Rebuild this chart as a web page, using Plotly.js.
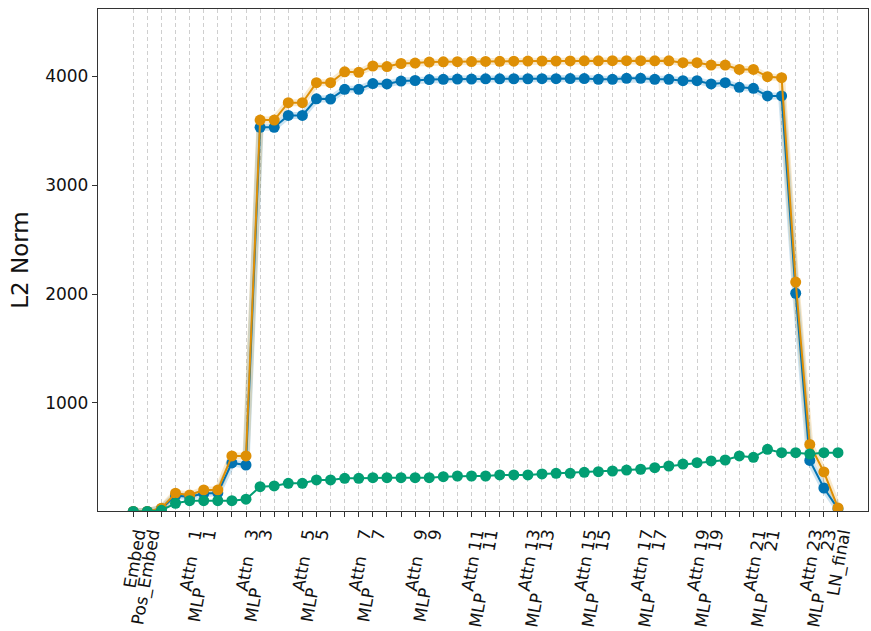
<!DOCTYPE html>
<html>
<head>
<meta charset="utf-8">
<script src="https://cdn.plot.ly/plotly-3.0.1.min.js"></script>
<style>html,body{margin:0;padding:0;background:#fff;}#chart{width:871px;height:631px;}</style>
</head>
<body>
<div id="chart"></div>
<script>
var categories = ["Embed","Pos_Embed",
  "Attn 0","MLP 0","Attn 1","MLP 1","Attn 2","MLP 2","Attn 3","MLP 3","Attn 4","MLP 4",
  "Attn 5","MLP 5","Attn 6","MLP 6","Attn 7","MLP 7","Attn 8","MLP 8","Attn 9","MLP 9",
  "Attn 10","MLP 10","Attn 11","MLP 11","Attn 12","MLP 12","Attn 13","MLP 13","Attn 14","MLP 14",
  "Attn 15","MLP 15","Attn 16","MLP 16","Attn 17","MLP 17","Attn 18","MLP 18","Attn 19","MLP 19",
  "Attn 20","MLP 20","Attn 21","MLP 21","Attn 22","MLP 22","Attn 23","MLP 23","LN_final"];

var tickLabels = ["Embed","Pos_Embed",
  "","","Attn\u00a0\u00a0\u00a01","MLP\u00a0\u00a0\u00a0\u00a0\u00a0\u00a0\u00a0\u00a0\u00a01","","",
  "Attn\u00a0\u00a0\u00a03","MLP\u00a0\u00a0\u00a0\u00a0\u00a0\u00a0\u00a0\u00a0\u00a03","","",
  "Attn\u00a0\u00a0\u00a05","MLP\u00a0\u00a0\u00a0\u00a0\u00a0\u00a0\u00a0\u00a0\u00a05","","",
  "Attn\u00a0\u00a0\u00a07","MLP\u00a0\u00a0\u00a0\u00a0\u00a0\u00a0\u00a0\u00a0\u00a07","","",
  "Attn\u00a0\u00a0\u00a09","MLP\u00a0\u00a0\u00a0\u00a0\u00a0\u00a0\u00a0\u00a0\u00a09","","",
  "Attn\u00a011","MLP\u00a0\u00a0\u00a0\u00a0\u00a0\u00a0\u00a0\u00a011","","",
  "Attn\u00a013","MLP\u00a0\u00a0\u00a0\u00a0\u00a0\u00a0\u00a0\u00a013","","",
  "Attn\u00a015","MLP\u00a0\u00a0\u00a0\u00a0\u00a0\u00a0\u00a0\u00a015","","",
  "Attn\u00a017","MLP\u00a0\u00a0\u00a0\u00a0\u00a0\u00a0\u00a0\u00a017","","",
  "Attn\u00a019","MLP\u00a0\u00a0\u00a0\u00a0\u00a0\u00a0\u00a0\u00a019","","",
  "Attn\u00a021","MLP\u00a0\u00a0\u00a0\u00a0\u00a0\u00a0\u00a0\u00a021","","",
  "Attn\u00a023","MLP\u00a0\u00a0\u00a0\u00a0\u00a0\u00a0\u00a0\u00a023","LN_final"];

var blueValues = [5,5,30,150,140,170,175,450,431,
  3529,3529,3638,3638,3791,3789,3878,3878,3931,3927,3954,3959,
  3968,3970,3972,3972,3974,3974,3975,3975,3976,3976,3977,3977,
  3970,3970,3979,3979,3970,3970,3957,3957,3927,3939,3896,3887,3817,3817,
  2007,473,220,30];

var orangeValues = [5,5,35,172,156,202,202,514,514,
  3596,3596,3755,3755,3939,3939,4039,4034,4092,4087,4115,4119,
  4128,4130,4132,4133,4134,4135,4136,4137,4138,4138,4139,4140,
  4140,4141,4141,4141,4140,4140,4122,4122,4101,4101,4061,4061,3994,3985,
  2110,620,367,37];

var greenValues = [5,5,15,80,104,104,104,104,117,
  232,239,263,263,294,294,309,309,315,315,315,315,
  315,324,330,330,330,340,340,340,349,355,355,364,
  370,376,385,392,406,422,440,452,468,477,514,502,575,544,
  544,532,544,544];

var yTicks = [1000,2000,3000,4000];

var BLUE = "#0173B2", ORANGE = "#DE8F05", GREEN = "#029E73";

function band(vals, rgba) {
  return {x: categories, y: vals, type: "scatter", mode: "lines",
    line: {color: rgba, width: 7}, hoverinfo: "skip", showlegend: false};
}
function series(vals, color) {
  return {x: categories, y: vals, type: "scatter", mode: "lines+markers",
    line: {color: color, width: 2}, marker: {color: color, size: 11},
    showlegend: false};
}

var data = [
  band(blueValues, "rgba(1,115,178,0.2)"),
  band(orangeValues, "rgba(222,143,5,0.2)"),
  series(blueValues, BLUE),
  series(orangeValues, ORANGE),
  series(greenValues, GREEN)
];

var font = "DejaVu Sans, sans-serif";
var layout = {
  width: 871, height: 631,
  margin: {l: 98, r: 3, t: 9, b: 120, pad: 0},
  paper_bgcolor: "#fff", plot_bgcolor: "#fff",
  showlegend: false,
  font: {family: font, size: 17, color: "#111"},
  xaxis: {
    type: "category", categoryorder: "array", categoryarray: categories,
    range: [-2.5, 52.13], autorange: false,
    tickmode: "array", tickvals: categories, ticktext: tickLabels,
    tickangle: -80, tickfont: {family: font, size: 17, color: "#111"},
    ticklabelshift: 4,
    ticks: "outside", ticklen: 5, tickwidth: 1, tickcolor: "#333",
    showline: true, linecolor: "#333", linewidth: 1.2, mirror: true,
    showgrid: true, gridcolor: "#cfcfcf", gridwidth: 1, griddash: "4px,3px",
    zeroline: false, automargin: false
  },
  yaxis: {
    range: [9, 4615], autorange: false,
    tickmode: "array", tickvals: yTicks, ticktext: yTicks.map(String),
    tickfont: {family: font, size: 17, color: "#111"},
    ticks: "outside", ticklen: 5, tickwidth: 1, tickcolor: "#333",
    showline: true, linecolor: "#333", linewidth: 1.2, mirror: true,
    showgrid: false, zeroline: false, automargin: false,
    title: {text: "L2 Norm", font: {family: font, size: 23, color: "#111"}, standoff: 10}
  }
};

Plotly.newPlot("chart", data, layout, {staticPlot: true, displayModeBar: false});
</script>
</body>
</html>
